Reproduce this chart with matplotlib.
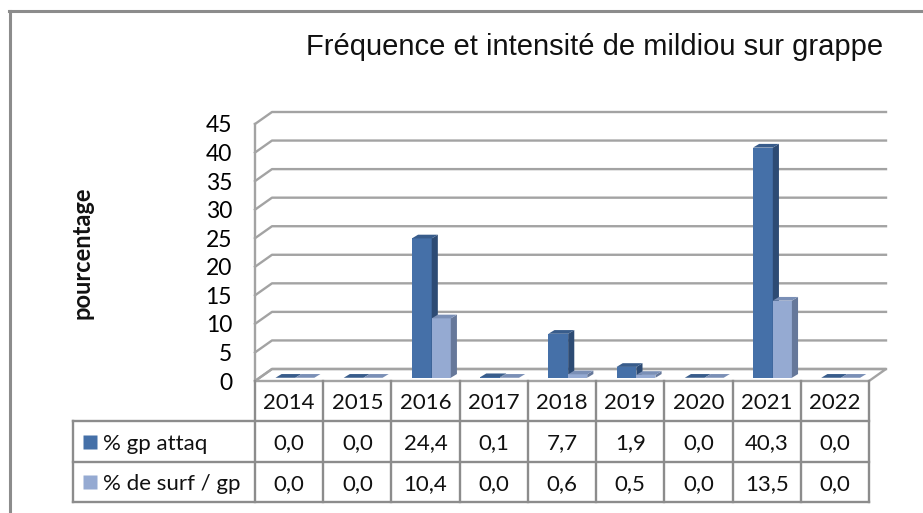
import matplotlib
matplotlib.use("Agg")
import matplotlib.pyplot as plt
from matplotlib.patches import Polygon
from matplotlib.lines import Line2D
import numpy as np

# ---- data ----
years = ["2014", "2015", "2016", "2017", "2018", "2019", "2020", "2021", "2022"]
gp_attaq = [0.0, 0.0, 24.4, 0.1, 7.7, 1.9, 0.0, 40.3, 0.0]
surf_gp = [0.0, 0.0, 10.4, 0.0, 0.6, 0.5, 0.0, 13.5, 0.0]
series_names = ["% gp attaq", "% de surf / gp"]

title = "Fréquence et intensité de mildiou sur grappe"
ylabel = "pourcentage"

# colours (front, side, top)
dark = ("#4570a8", "#2d4b74", "#385c8b")
light = ("#95aad2", "#66789a", "#7a8fb6")
grid_col = "#a3a3a3"
frame_col = "#8c8c8c"

W, H = 923, 513
fig = plt.figure(figsize=(W / 100, H / 100), dpi=100)

def fbox(x0, y0, x1, y1):
    # pixel box (top-left origin) -> figure rect
    return [x0 / W, 1 - y1 / H, (x1 - x0) / W, (y1 - y0) / H]

n = len(years)
ymax = 45

# main chart axes: front plane of the 3D box
ax = fig.add_axes(fbox(255, 124, 869, 381))
ax.set_xlim(0, n)
ax.set_ylim(0, ymax)
for s in ax.spines.values():
    s.set_visible(False)
ax.set_xticks([])
ax.set_yticks(range(0, ymax + 1, 5))
ax.tick_params(axis="y", length=0, pad=16.5, labelsize=16.5)
for lab in ax.get_yticklabels():
    lab.set_fontfamily("Lato")

# depth of the floor / walls in data units
Dx = 17 / (614 / n)
Dy = 12 / (257 / ymax)

# floor
ax.add_patch(Polygon([(0, 0), (n, 0), (n + Dx, Dy), (Dx, Dy)], closed=True,
                     facecolor="white", edgecolor=grid_col, lw=1.7, clip_on=False, zorder=1))
# wall gridlines
for v in range(0, ymax + 1, 5):
    ax.add_line(Line2D([0, Dx, n + Dx], [v, v + Dy, v + Dy], color=grid_col,
                       lw=1.7, clip_on=False, zorder=1))
ax.add_line(Line2D([0, 0], [0, ymax], color=grid_col, lw=1.7, clip_on=False, zorder=1))

# bars (slightly behind front edge)
sy = 0.27 * Dy
bdx, bdy = 0.09, 0.65
xs = np.arange(n)
offsets = [0.30, 0.59]
widths = [0.29, 0.28]
for vals, col, off, w in [(gp_attaq, dark, offsets[0], widths[0]),
                          (surf_gp, light, offsets[1], widths[1])]:
    bars = ax.bar(xs + off, vals, width=w, bottom=sy, align="edge",
                  color=col[0], edgecolor="none", zorder=3, clip_on=False)
    for b, v in zip(bars, vals):
        x0 = b.get_x()
        x1 = x0 + b.get_width()
        y0 = sy
        y1 = sy + v
        ax.add_patch(Polygon([(x1, y0), (x1 + bdx, y0 + bdy), (x1 + bdx, y1 + bdy), (x1, y1)],
                             closed=True, facecolor=col[1], edgecolor="none", zorder=3, clip_on=False))
        ax.add_patch(Polygon([(x0, y1), (x1, y1), (x1 + bdx, y1 + bdy), (x0 + bdx, y1 + bdy)],
                             closed=True, facecolor=col[2], edgecolor="none", zorder=3, clip_on=False))

# ---- data table under the chart ----
L = (255 - 73) / (614 / n)
tax = fig.add_axes(fbox(73, 381, 869, 502))
tax.set_xlim(-L, n)
tax.set_ylim(3, 0)
tax.axis("off")
tcol = "#8c8c8c"
for r in [1, 2, 3]:
    tax.add_line(Line2D([-L, n], [r, r], color=tcol, lw=1.7, clip_on=False))
for c in range(n + 1):
    tax.add_line(Line2D([c, c], [0, 3], color=tcol, lw=1.7, clip_on=False))
tax.add_line(Line2D([-L, -L], [1, 3], color=tcol, lw=1.7, clip_on=False))

tfont = dict(family="Lato", fontsize=16, color="#111111", ha="center", va="center")
for i, y in enumerate(years):
    tax.text(i + 0.5, 0.55, y, **tfont)
for r, vals in enumerate([gp_attaq, surf_gp]):
    for i, v in enumerate(vals):
        tax.text(i + 0.5, r + 1.55, f"{v:.1f}".replace(".", ","), **tfont)

key_x = -L + 17 / (614 / n)
for r, (name, col) in enumerate(zip(series_names, [dark, light])):
    tax.plot([key_x], [r + 1.5], marker="s", ms=10, color=col[0], mec="none", clip_on=False)
    tax.text(key_x + 13 / (614 / n), r + 1.55, name, family="Lato", fontsize=16,
             color="#111111", ha="left", va="center")

# ---- title, y label, frame ----
fig.text(595 / W, 1 - 55 / H, title, family=["Liberation Sans Narrow", "Liberation Sans"],
         fontsize=21, ha="center", va="baseline", color="#111111")
fig.text(82 / W, 1 - 253 / H, ylabel, family="Lato", fontweight="bold", fontsize=17,
         rotation=90, ha="center", va="center", color="#111111")

fig.add_artist(Line2D([9 / W, 1], [1 - 11 / H, 1 - 11 / H], color=frame_col, lw=2.2,
                      transform=fig.transFigure))
fig.add_artist(Line2D([10 / W, 10 / W], [1 - 11 / H, 0], color=frame_col, lw=2.2,
                      transform=fig.transFigure))

fig.savefig("out.png", dpi=100)
